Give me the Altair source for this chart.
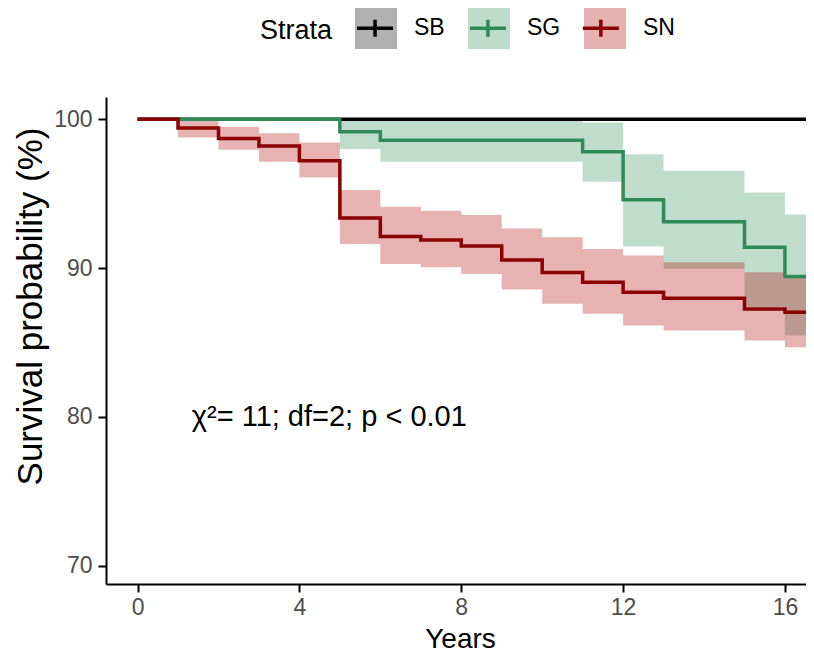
import altair as alt
import pandas as pd

FONT = "Liberation Sans"

strata = ["SB", "SG", "SN"]
ribbon_colors = ["#000000", "#2E8B57", "#B00000"]
line_colors = ["#000000", "#2E8B57", "#8B0000"]

x_ticks = [0, 4, 8, 12, 16]
y_ticks = [70, 80, 90, 100]

sb_time = [0, 17.5]
sb_surv = [100, 100]
sb_upper = [100, 100]
sb_lower = [100, 100]

sg_time = [0, 5, 6, 11, 12, 13, 15, 16, 17.5]
sg_surv = [100, 99.16, 98.6, 97.82, 94.6, 93.12, 91.4, 89.43, 89.43]
sg_upper = [100, 100, 100, 99.79, 97.66, 96.54, 95.09, 93.6, 93.6]
sg_lower = [100, 98.0, 97.15, 95.81, 91.46, 89.95, 87.4, 85.47, 85.47]

sn_time = [0, 1, 2, 3, 4, 5, 6, 7, 8, 9, 10, 11, 12, 13, 15, 16, 17.5]
sn_surv = [100, 99.41, 98.71, 98.2, 97.21, 93.37, 92.13, 91.89, 91.49, 90.55,
           89.7, 89.05, 88.38, 87.97, 87.26, 87.03, 87.03]
sn_upper = [100, 100, 99.5, 99.07, 98.44, 95.25, 94.13, 93.86, 93.57, 92.67,
            92.07, 91.29, 90.84, 90.39, 89.72, 89.45, 89.45]
sn_lower = [100, 98.78, 97.95, 97.15, 96.09, 91.62, 90.28, 90.05, 89.61, 88.56,
            87.6, 86.93, 86.14, 85.81, 85.13, 84.68, 84.68]

ann_text = ["χ²= 11; df=2; p < 0.01"]
ann_x = [1.34]
ann_y = [80]

rows = []
for name, t, s, u, l in [
    ("SB", sb_time, sb_surv, sb_upper, sb_lower),
    ("SG", sg_time, sg_surv, sg_upper, sg_lower),
    ("SN", sn_time, sn_surv, sn_upper, sn_lower),
]:
    for ti, si, ui, li in zip(t, s, u, l):
        rows.append({"time": ti, "surv": si, "upper": ui, "lower": li,
                     "strata": name, "strata_line": name})
df = pd.DataFrame(rows)
ann_df = pd.DataFrame({"time": ann_x, "surv": ann_y, "label": ann_text})

xscale = alt.Scale(domain=[-0.78, 16.52], nice=False, zero=False)
yscale = alt.Scale(domain=[68.77, 101.5], nice=False, zero=False)

xaxis = alt.Axis(
    title="Years", values=x_ticks, labelPadding=4,
    titleFontSize=28, titleFontWeight="normal", titleColor="black",
    titleX=354, titleY=63, titleBaseline="alphabetic", titleAlign="center",
)
yaxis = alt.Axis(
    title="Survival probability (%)", values=y_ticks, labelPadding=6,
    titleFontSize=35, titleFontWeight="normal", titleColor="black",
    titleX=-76, titleY=209, titleAngle=270, titleAlign="center",
    titleBaseline="middle",
)

# Legend layout: "Strata" title (27px) + 20px padding, then key boxes.
TITLE_W = 72.04
LEG_X = 154
LEG_Y = -92
PLUS = "M-0.857,0H0.857M0,-0.405V0.405"

ribbon = alt.Chart(df).mark_area(
    interpolate="step-after", opacity=0.3, clip=True
).encode(
    x=alt.X("time:Q", scale=xscale, axis=xaxis),
    y=alt.Y("lower:Q", scale=yscale, axis=yaxis),
    y2="upper:Q",
    fill=alt.Fill(
        "strata:N",
        scale=alt.Scale(domain=strata, range=ribbon_colors),
        legend=alt.Legend(
            title="Strata", orient="none", legendX=LEG_X, legendY=LEG_Y,
            direction="horizontal", titleOrient="left", titleFontSize=27,
            titleFont=FONT, titleFontWeight="normal", titleColor="black",
            titlePadding=20, titleAnchor="middle", titleBaseline="middle",
            symbolType="square", symbolSize=1764, symbolStrokeWidth=3.5,
            symbolStrokeColor="transparent", symbolOpacity=0.3,
            labelFontSize=23, labelFont=FONT, labelColor="black",
            labelOffset=15, columnPadding=16, padding=0,
        ),
    ),
)

lines = alt.Chart(df).mark_line(
    interpolate="step-after", strokeWidth=3.5, clip=True
).encode(
    x=alt.X("time:Q", scale=xscale, axis=xaxis),
    y=alt.Y("surv:Q", scale=yscale, axis=yaxis),
    stroke=alt.Stroke(
        "strata_line:N",
        scale=alt.Scale(range=line_colors),
        legend=alt.Legend(
            title=None, orient="none", legendX=LEG_X + TITLE_W + 20,
            legendY=LEG_Y, direction="horizontal",
            symbolType=PLUS, symbolSize=1764, symbolStrokeWidth=3.5,
            symbolFillColor="transparent", symbolOpacity=1,
            labelExpr="''", labelFontSize=23, labelOffset=0,
            columnPadding=62.9, padding=0,
        ),
    ),
)

annotation = alt.Chart(ann_df).mark_text(
    align="left", baseline="middle", fontSize=29, font=FONT, color="black"
).encode(
    x=alt.X("time:Q", scale=xscale, axis=xaxis),
    y=alt.Y("surv:Q", scale=yscale, axis=yaxis),
    text="label:N",
)

chart = alt.layer(ribbon, lines, annotation).properties(
    width=700, height=487,
    autosize=alt.AutoSizeParams(type="none"),
    padding={"left": 98, "top": 89, "right": 0, "bottom": 69},
).configure_view(stroke=None).configure_axis(
    grid=False, domainColor="black", domainWidth=2,
    tickColor="black", tickWidth=2, tickSize=8,
    labelColor="#4d4d4d", labelFontSize=23, labelFont=FONT, titleFont=FONT,
)

chart.save("out.html", embed_options={"renderer": "svg", "actions": False})
